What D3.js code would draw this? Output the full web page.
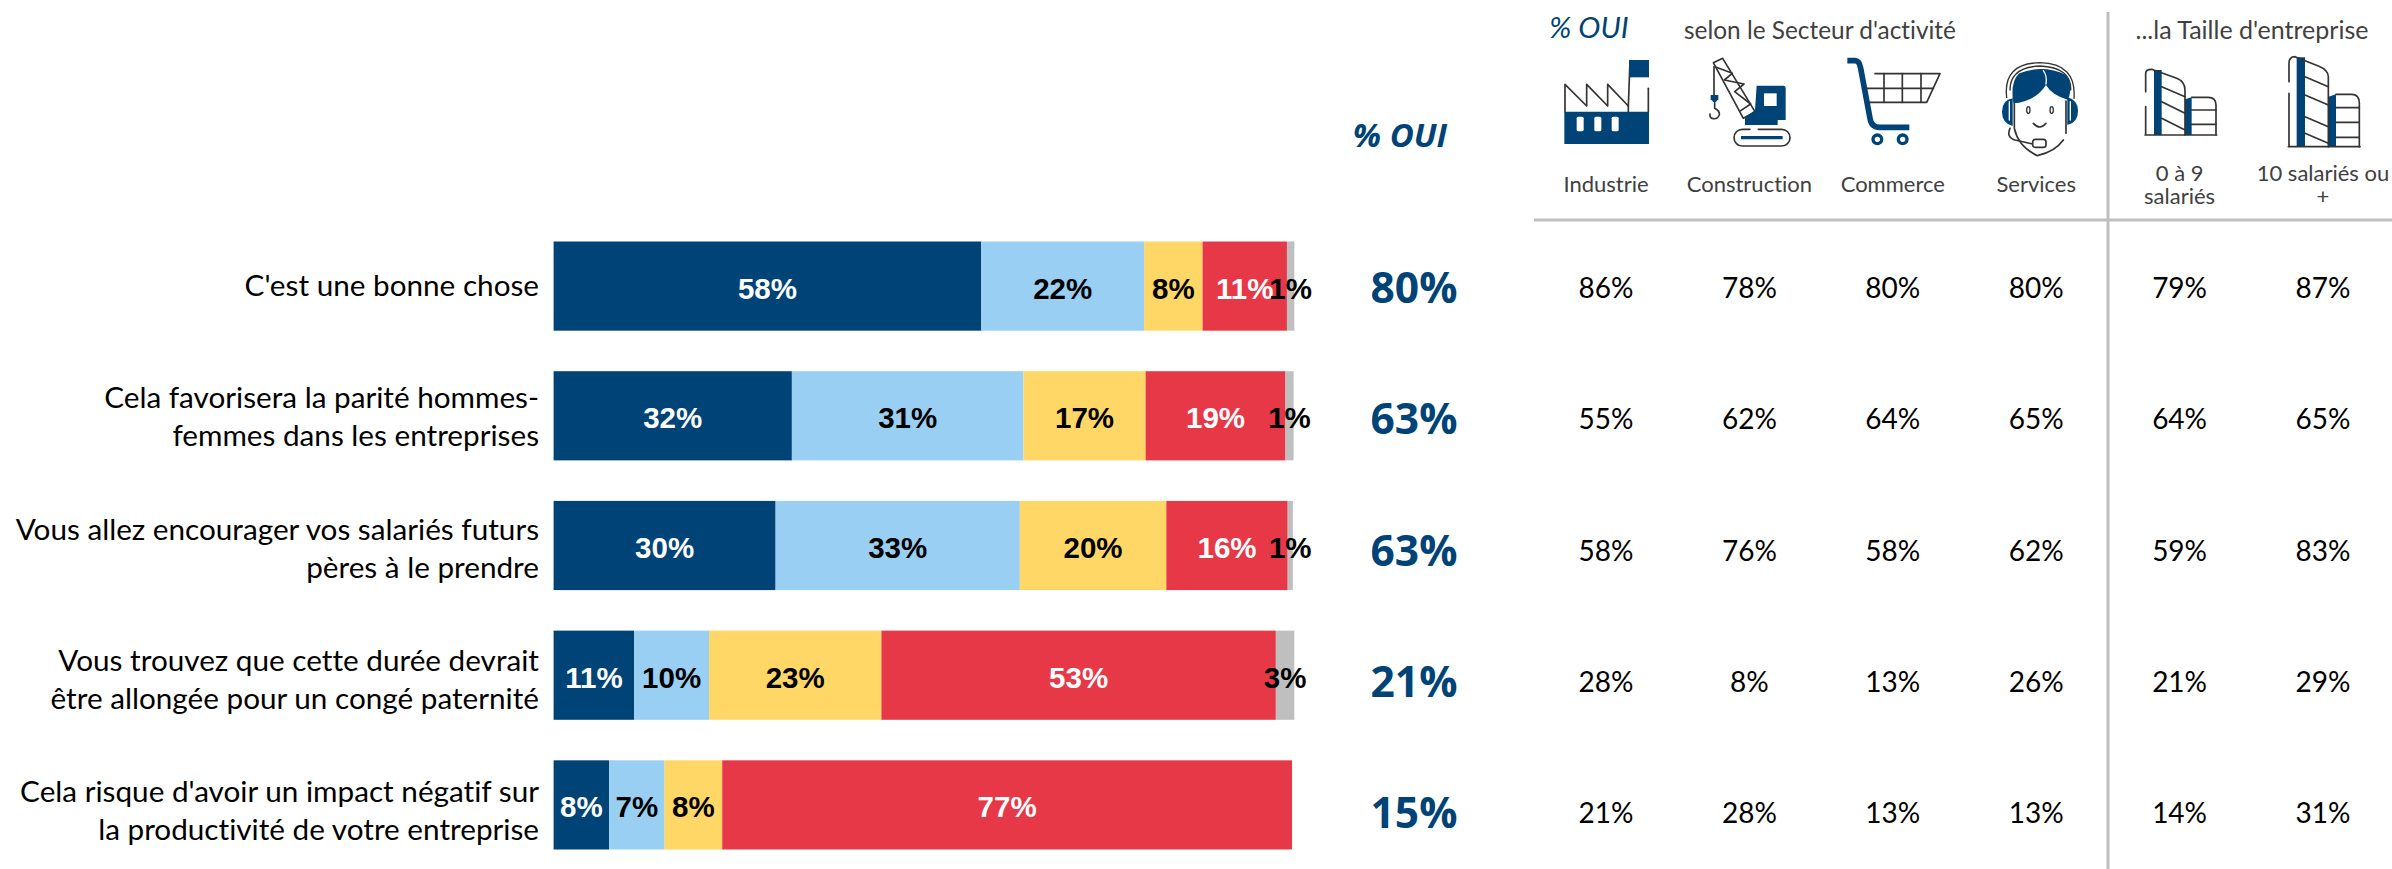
<!DOCTYPE html>
<html>
<head>
    <title>% OUI - congé paternité</title>
    <script src="https://d3js.org/d3.v7.min.js"></script>
    <style>
        body { margin: 0; background: #fff; }
        svg { display: block; }
        text { font-variant-ligatures: none; }
    </style>
</head>
<body>
    <div id="chart"></div>

    <script>
        const categories = [
            ["C'est une bonne chose"],
            ["Cela favorisera la parité hommes-", "femmes dans les entreprises"],
            ["Vous allez encourager vos salariés futurs", "pères à le prendre"],
            ["Vous trouvez que cette durée devrait", "être allongée pour un congé paternité"],
            ["Cela risque d'avoir un impact négatif sur", "la productivité de votre entreprise"]
        ];
        const rows = [0, 1, 2, 3, 4];

        // stacked shares
        const seriesA = [57.8, 32.2, 30.0, 10.9, 7.5];
        const seriesB = [22.0, 31.3, 33.0, 10.1, 7.49];
        const seriesC = [7.9, 16.5, 19.8, 23.3, 7.8];
        const seriesD = [11.4, 18.9, 16.4, 53.3, 77.0];
        const seriesE = [1.0, 1.1, 0.7, 2.5, 0];
        const seriesColors = ["#004376", "#99CFF2", "#FFD766", "#E73847", "#BFBFBF"];
        const labelColors = ["#fff", "#000", "#000", "#fff", "#000"];

        const totalOui = [80, 63, 63, 21, 15];

        const industrie = [86, 55, 58, 28, 21];
        const construction = [78, 62, 76, 8, 28];
        const commerce = [80, 64, 58, 13, 13];
        const services = [80, 65, 62, 26, 13];
        const petites = [79, 64, 59, 21, 14];
        const grandes = [87, 65, 83, 29, 31];
        const tableColumns = [industrie, construction, commerce, services, petites, grandes];
        const columnHeaders = [["Industrie"], ["Construction"], ["Commerce"], ["Services"], ["0 à 9", "salariés"], ["10 salariés ou", "+"]];

        const navy = "#004376", ink = "#333", rule = "#BFBFBF";
        const bodyFont = "Lato, 'Open Sans', sans-serif";

        const svg = d3.select("#chart").append("svg")
            .attr("width", 2392)
            .attr("height", 869);

        const x = d3.scaleLinear().domain([0, 100]).range([553.6, 1293.6]);
        const y = d3.scaleBand().domain(rows).range([241.5, 849.5]).paddingInner(0.3125).paddingOuter(0);
        const rowY = d3.scalePoint().domain(rows).range([287, 812]);
        const colX = d3.scalePoint().domain(d3.range(6)).range([1606, 2323]);

        // stacked bars
        const stack = d3.stack().keys(d3.range(5)).value((row, key) => [seriesA, seriesB, seriesC, seriesD, seriesE][key][row]);
        const layers = stack(rows);

        svg.append("g").selectAll("g")
            .data(layers)
            .enter().append("g")
            .attr("fill", d => seriesColors[d.key])
            .selectAll("rect")
            .data(d => d)
            .enter().append("rect")
            .attr("x", d => x(d[0]))
            .attr("y", d => y(d.data))
            .attr("width", d => x(d[1]) - x(d[0]))
            .attr("height", y.bandwidth());

        // labels go on top of every segment, the small ones overlap their neighbour
        layers.forEach(layer => {
            svg.append("g")
                .attr("font-family", "'Liberation Sans', Arial, sans-serif")
                .attr("font-weight", "bold")
                .attr("font-size", 29.5)
                .attr("text-anchor", "middle")
                .attr("fill", labelColors[layer.key])
                .selectAll("text")
                .data(layer.filter(d => d[1] - d[0] > 0))
                .enter().append("text")
                .attr("x", d => x((d[0] + d[1]) / 2))
                .attr("y", d => y(d.data) + y.bandwidth() / 2 + 12.5)
                .text(d => Math.round(d[1] - d[0]) + "%");
        });

        // category labels
        const catLabels = svg.append("g")
            .attr("font-family", bodyFont)
            .attr("font-size", 29.7)
            .attr("text-anchor", "end")
            .attr("fill", "#000")
            .selectAll("text")
            .data(rows)
            .enter().append("text")
            .attr("y", d => rowY(d) + 9 - (categories[d].length - 1) * 19);

        catLabels.selectAll("tspan")
            .data(d => categories[d])
            .enter().append("tspan")
            .attr("x", 539)
            .attr("dy", (d, i) => i ? 38 : 0)
            .text(d => d);

        // total % OUI column
        svg.append("text")
            .attr("x", 1400).attr("y", 147)
            .attr("text-anchor", "middle")
            .attr("font-family", "'Open Sans', sans-serif")
            .attr("font-weight", "bold")
            .attr("font-style", "italic")
            .attr("font-size", 33)
            .attr("fill", navy)
            .text("% OUI");

        svg.append("g")
            .attr("font-family", "'Open Sans', sans-serif")
            .attr("font-weight", "bold")
            .attr("font-size", 42.5)
            .attr("text-anchor", "middle")
            .attr("fill", navy)
            .selectAll("text")
            .data(totalOui)
            .enter().append("text")
            .attr("x", 1414)
            .attr("y", (d, i) => rowY(i) + 16)
            .text(d => d + "%");

        // table of sector / size values
        tableColumns.forEach((col, c) => {
            svg.append("g")
                .attr("font-family", bodyFont)
                .attr("font-size", 28)
                .attr("text-anchor", "middle")
                .attr("fill", "#000")
                .selectAll("text")
                .data(col)
                .enter().append("text")
                .attr("x", colX(c))
                .attr("y", (d, i) => rowY(i) + 11)
                .text(d => d + "%");
        });

        // table headers
        const head = svg.append("g")
            .attr("font-family", bodyFont)
            .attr("font-size", 22)
            .attr("text-anchor", "middle")
            .attr("fill", "#404040");

        columnHeaders.forEach((lines, c) => {
            lines.forEach((line, i) => {
                head.append("text")
                    .attr("x", colX(c))
                    .attr("y", lines.length > 1 ? 181 + i * 23 : 192)
                    .text(line);
            });
        });

        svg.append("text").attr("x", 1589).attr("y", 38)
            .attr("text-anchor", "middle")
            .attr("font-family", bodyFont).attr("font-style", "italic")
            .attr("font-size", 29.7).attr("fill", navy).text("% OUI");
        svg.append("text").attr("x", 1820).attr("y", 39)
            .attr("text-anchor", "middle")
            .attr("font-family", bodyFont).attr("font-size", 24.4).attr("fill", "#404040")
            .text("selon le Secteur d'activité");
        svg.append("text").attr("x", 2252).attr("y", 39)
            .attr("text-anchor", "middle")
            .attr("font-family", bodyFont).attr("font-size", 25).attr("fill", "#404040")
            .text("...la Taille d'entreprise");

        // rules
        svg.append("line").attr("x1", 1534).attr("x2", 2392).attr("y1", 220).attr("y2", 220)
            .attr("stroke", rule).attr("stroke-width", 3);
        svg.append("line").attr("x1", 2108).attr("x2", 2108).attr("y1", 12).attr("y2", 869)
            .attr("stroke", rule).attr("stroke-width", 3);

        // icons, drawn in the 3x space of the header crop
        function icon(ox, oy) {
            return svg.append("g")
                .attr("transform", "translate(" + ox + "," + oy + ") scale(" + (1 / 3) + ")")
                .attr("fill", "none")
                .attr("stroke-linejoin", "round")
                .attr("stroke-linecap", "round");
        }
        function line(g, d, w) {
            return g.append("path").attr("d", d).attr("stroke", ink).attr("stroke-width", w || 5);
        }
        function solid(g, d) {
            return g.append("path").attr("d", d).attr("fill", navy);
        }
        function white(g, d) {
            return g.append("path").attr("d", d).attr("fill", "#fff");
        }

        const row1 = icon(1540, 40);
        // factory
        solid(row1, "M73,215H327V312H73Z");
        [110, 163, 215].forEach(wx => row1.append("rect").attr("x", wx).attr("y", 230).attr("width", 21).attr("height", 44).attr("rx", 5).attr("fill", "#fff"));
        line(row1, "M75,215V133L140,198V133L203,198V133L265,198V215");
        line(row1, "M265,198L270,62");
        line(row1, "M325,145V215");
        solid(row1, "M268,60H327V112H268Z");
        // crane
        line(row1, "M520,68L548,55L645,215L610,235Z");
        line(row1, "M529,82L577,100L553,120L612,132L584,155L632,192L602,212");
        line(row1, "M522,80V165");
        solid(row1, "M512,165H535V178L524,190L512,178Z");
        line(row1, "M524,190V205Q540,213 538,225Q532,238 520,236Q508,234 510,222");
        solid(row1, "M650,137H730Q737,137 737,145V240H713V255H615V235L645,210Z");
        white(row1, "M672,160H710V198H672Z");
        line(row1, "M630,268H607A25,25 0 0 0 607,318H725A25,25 0 0 0 725,268H655");
        solid(row1, "M603,288H728V298H603Z");
        // cart
        row1.append("path").attr("d", "M922,62H945Q958,62 962,85L990,235Q994,262 1020,262H1108")
            .attr("stroke", navy).attr("stroke-width", 17).attr("stroke-linecap", "butt");
        line(row1, "M1005,101H1200L1160,187H985");
        line(row1, "M975,145H1180");
        line(row1, "M1032,101V187M1087,101V187M1143,101V187");
        [1012, 1088].forEach(cx => row1.append("circle").attr("cx", cx).attr("cy", 298).attr("r", 13).attr("fill", "#fff").attr("stroke", navy).attr("stroke-width", 10));

        const row2 = icon(1960, 40);
        // headset
        line(row2, "M140,172Q128,70 240,68Q350,70 342,175", 4);
        line(row2, "M150,150Q150,82 240,78Q335,82 332,150", 4);
        solid(row2, "M160,190Q150,125 178,100Q250,72 318,105Q340,130 325,180Q275,165 258,135Q225,185 160,190Z");
        row2.append("path").attr("d", "M250,92Q262,108 258,132").attr("stroke", "#fff").attr("stroke-width", 4);
        solid(row2, "M158,175Q126,180 126,215Q126,250 158,258Z");
        solid(row2, "M322,172Q354,180 354,213Q354,248 322,255Z");
        row2.append("path").attr("d", "M148,185V240M331,185V240").attr("stroke", "#fff").attr("stroke-width", 4);
        line(row2, "M163,190V265Q175,320 232,347Q285,335 310,300");
        line(row2, "M318,183V280");
        row2.append("ellipse").attr("cx", 205).attr("cy", 210).attr("rx", 5).attr("ry", 10).attr("stroke", ink).attr("stroke-width", 4);
        row2.append("ellipse").attr("cx", 275).attr("cy", 210).attr("rx", 5).attr("ry", 10).attr("stroke", ink).attr("stroke-width", 4);
        line(row2, "M220,250Q240,272 258,250");
        line(row2, "M150,265Q138,292 165,300L218,312");
        row2.append("rect").attr("x", 218).attr("y", 298).attr("width", 40).attr("height", 24).attr("rx", 8).attr("fill", "#fff").attr("stroke", ink).attr("stroke-width", 5);
        // small buildings
        solid(row2, "M582,90H605V285H582Z");
        solid(row2, "M675,178L695,172V285H675Z");
        line(row2, "M557,155V100Q557,88 575,88L650,115Q675,125 675,150V285");
        line(row2, "M557,200V285M555,285H770");
        line(row2, "M605,140L675,170M605,185L675,220M605,235L675,270");
        line(row2, "M695,172H745Q768,172 768,195V285");
        line(row2, "M695,210H768M695,253H768");
        // larger buildings
        solid(row2, "M1010,52H1035V320H1010Z");
        solid(row2, "M1105,170L1128,163V320H1105Z");
        line(row2, "M987,125V70Q987,50 1005,50L1075,78Q1105,90 1105,110V320");
        line(row2, "M987,160V320M985,320H1200");
        line(row2, "M1035,110L1105,140M1035,165L1105,195M1035,230L1105,260M1035,280L1105,310");
        line(row2, "M1128,163H1175Q1198,163 1198,190V320");
        line(row2, "M1128,203H1198M1128,247H1198M1128,292H1198");
    </script>
</body>
</html>
